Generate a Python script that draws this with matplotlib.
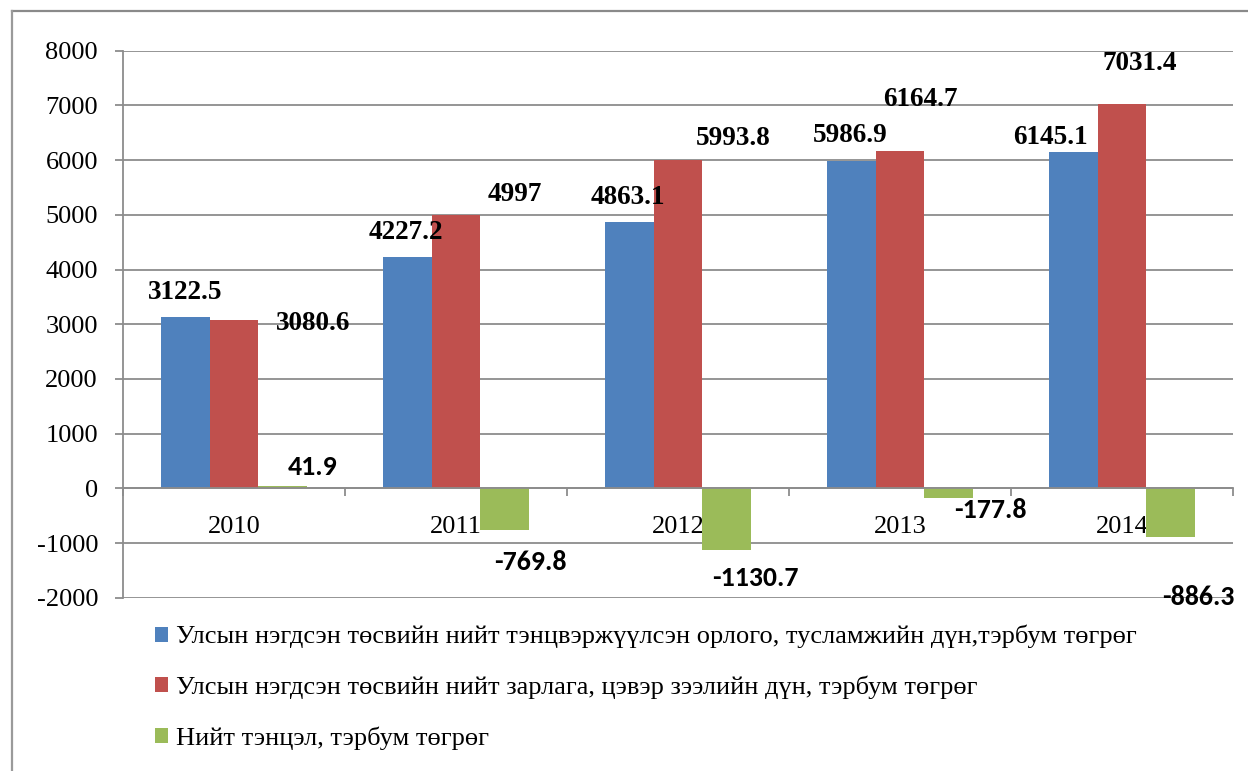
import matplotlib
matplotlib.use("Agg")
import matplotlib.pyplot as plt
from matplotlib.lines import Line2D
from matplotlib.font_manager import FontProperties
import numpy as np

years = ["2010", "2011", "2012", "2013", "2014"]
revenue = [3122.5, 4227.2, 4863.1, 5986.9, 6145.1]
expenditure = [3080.6, 4997, 5993.8, 6164.7, 7031.4]
balance = [41.9, -769.8, -1130.7, -177.8, -886.3]
series_names = [
    "Улсын нэгдсэн төсвийн нийт тэнцвэржүүлсэн орлого, тусламжийн дүн,тэрбум төгрөг",
    "Улсын нэгдсэн төсвийн нийт зарлага, цэвэр зээлийн дүн, тэрбум төгрөг",
    "Нийт тэнцэл, тэрбум төгрөг",
]
y_ticks = list(range(-2000, 8001, 1000))

# label offsets in pixels (dx, dy) from bar end
rev_off = [(0, 25), (-1, 25), (-1, 25), (-1, 25), (-23, 15)]
exp_off = [(79, -4), (59, 20), (55, 22), (20, 52), (18, 40)]
bal_off = [(30, 19), (25, -32), (28, -28), (41, -12), (27, -60)]

colors = ["#4F81BD", "#C0504D", "#9BBB59"]
grid_c = "#8C8C8C"

fp_tick = FontProperties(family="Liberation Serif", size=19)
fp_leg = FontProperties(family="Liberation Serif", size=19)
fp_lab_serif = FontProperties(family="Liberation Serif", size=19.5, weight="bold")
fp_lab_sans = FontProperties(family="Carlito", size=20, weight="bold")

fig = plt.figure(figsize=(12.48, 7.71), dpi=100)
ax = fig.add_axes([123 / 1248, 1 - 597.7 / 771, (1233 - 123) / 1248, (597.7 - 50.7) / 771])

x = np.arange(len(years))
w = 0.2207
bars = []
for i, (vals, offs) in enumerate(zip([revenue, expenditure, balance], [rev_off, exp_off, bal_off])):
    xs = x + (i - 1) * w
    b = ax.bar(xs, vals, width=w, color=colors[i], zorder=3, label=series_names[i])
    bars.append(b)
    for xi, v, (dx, dy) in zip(xs, vals, offs):
        fp = fp_lab_sans if i == 2 else fp_lab_serif
        ax.annotate(f"{v:g}", xy=(xi, v), xytext=(dx, dy), textcoords="offset pixels",
                    ha="center", va="center", fontproperties=fp, color="black", zorder=5)

ax.set_xlim(-0.5, len(years) - 0.5)
ax.set_ylim(-2000, 8000)
ax.set_yticks(y_ticks)
ax.set_yticklabels([str(t) for t in y_ticks], fontproperties=fp_tick)
ax.tick_params(axis="y", length=6, width=1.3, color=grid_c, pad=12)
ax.yaxis.grid(True, color=grid_c, linewidth=1.3, zorder=0)
ax.set_axisbelow(True)

ax.spines["top"].set_visible(False)
ax.spines["right"].set_visible(False)
ax.spines["left"].set_color(grid_c)
ax.spines["left"].set_linewidth(1.3)
ax.spines["bottom"].set_position(("data", 0))
ax.spines["bottom"].set_color(grid_c)
ax.spines["bottom"].set_linewidth(1.3)
ax.spines["bottom"].set_zorder(4)

ax.set_xticks(np.arange(-0.5, len(years), 1.0))
ax.set_xticklabels([])
ax.tick_params(axis="x", which="major", length=6, width=1.3, color=grid_c, direction="out")
ax.set_xticks(x, minor=True)
ax.set_xticklabels(years, minor=True, fontproperties=fp_tick)
ax.tick_params(axis="x", which="minor", length=0, pad=20)

leg = fig.legend(handles=bars, labels=series_names, loc="upper left",
                 bbox_to_anchor=(155 / 1248, 1 - 625 / 771), frameon=False,
                 prop=fp_leg, handlelength=0.5, handleheight=0.5,
                 handletextpad=0.3, labelspacing=1.03, borderaxespad=0, borderpad=0)

# outer frame
fig.add_artist(Line2D([12 / 1248, 1], [1 - 11 / 771, 1 - 11 / 771], color="#8A8A8A", lw=1.6,
                      transform=fig.transFigure))
fig.add_artist(Line2D([12 / 1248, 12 / 1248], [0, 1 - 11 / 771], color="#9A9A9A", lw=1.6,
                      transform=fig.transFigure))

fig.savefig("out.png", dpi=100)
